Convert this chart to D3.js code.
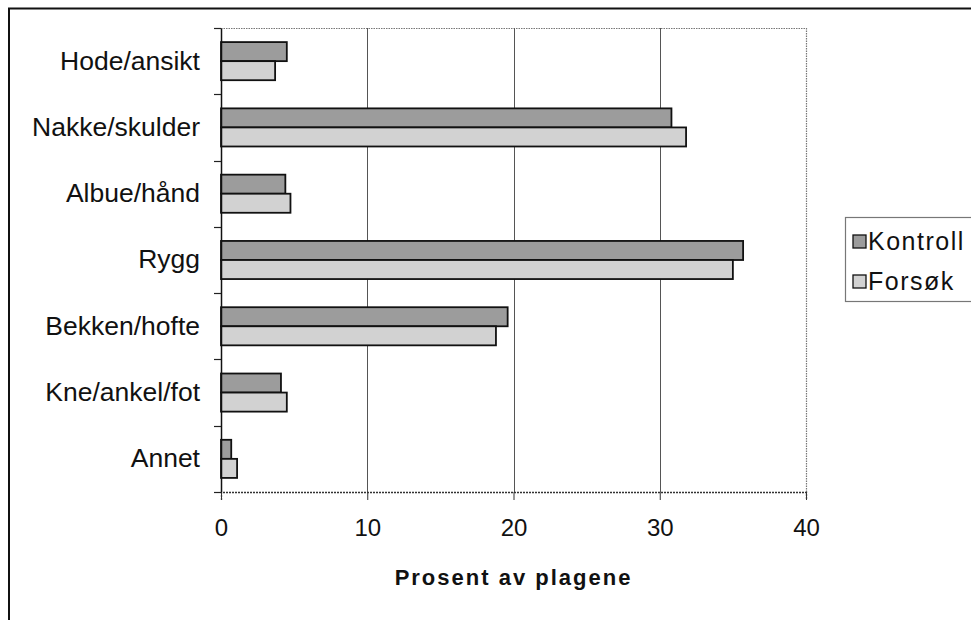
<!DOCTYPE html>
<html><head><meta charset="utf-8">
<script src="https://cdn.jsdelivr.net/npm/d3@7"></script>
<style>
body{margin:0;background:#fff;}
svg{display:block;font-family:"Liberation Sans",Arial,Helvetica,sans-serif;}
</style></head>
<body><svg id="chart" width="971" height="620"></svg>
<script>
const categories = ["Hode/ansikt","Nakke/skulder","Albue/hånd","Rygg","Bekken/hofte","Kne/ankel/fot","Annet"];
const seriesNames = ["Kontroll","Forsøk"];
const kontroll = [4.5, 30.8, 4.4, 35.7, 19.6, 4.1, 0.7];
const forsok   = [3.7, 31.8, 4.75, 35.0, 18.8, 4.5, 1.1];
const xTicks = [0,10,20,30,40];
const xTitle = "Prosent av plagene";

const colors = {"Kontroll":"#9c9c9c","Forsøk":"#d2d2d2"};
const values = {"Kontroll":kontroll,"Forsøk":forsok};

const svg = d3.select("#chart");
const plot = {left:221, right:806, top:28, bottom:492};

// outer frame
svg.append("line").attr("x1",8).attr("x2",971).attr("y1",8.5).attr("y2",8.5).attr("stroke","#111").attr("stroke-width",2);
svg.append("line").attr("x1",9).attr("x2",9).attr("y1",8).attr("y2",620).attr("stroke","#111").attr("stroke-width",2);

const x = d3.scaleLinear().domain([0,40]).range([plot.left,plot.right]);
const y = d3.scaleBand().domain(categories).range([plot.top,plot.bottom]).padding(0);
const groupFrac = 0.575;
const ySub = d3.scaleBand().domain(seriesNames).range([0,y.bandwidth()*groupFrac]);
const groupOffset = y.bandwidth()*(1-groupFrac)/2;

// plot border (dotted top/right)
svg.append("line").attr("x1",plot.left).attr("x2",plot.right).attr("y1",plot.top+0.5).attr("y2",plot.top+0.5)
  .attr("stroke","#777").attr("stroke-width",1.2).attr("stroke-dasharray","1.5,1");
svg.append("line").attr("x1",plot.right+0.5).attr("x2",plot.right+0.5).attr("y1",plot.top).attr("y2",plot.bottom)
  .attr("stroke","#777").attr("stroke-width",1.2).attr("stroke-dasharray","1.5,1");

// gridlines
svg.append("g").selectAll("line").data(xTicks.filter(t=>t>0 && t<40)).join("line")
  .attr("x1",d=>Math.round(x(d))+0.5).attr("x2",d=>Math.round(x(d))+0.5)
  .attr("y1",plot.top).attr("y2",plot.bottom)
  .attr("stroke","#555").attr("stroke-width",1);

// bars
const groups = svg.append("g").selectAll("g").data(categories).join("g")
  .attr("transform",d=>`translate(0,${y(d)+groupOffset})`);
groups.selectAll("rect").data((c,i)=>seriesNames.map(s=>({s, v:values[s][i]}))).join("rect")
  .attr("x",x(0)).attr("y",d=>ySub(d.s))
  .attr("width",d=>x(d.v)-x(0)).attr("height",ySub.bandwidth())
  .attr("fill",d=>colors[d.s]).attr("stroke","#111").attr("stroke-width",1.8);

// x axis
const xAxis = d3.axisBottom(x).tickValues(xTicks).tickSize(8).tickPadding(20).tickFormat(d3.format("d"));
const gx = svg.append("g").attr("transform",`translate(0,${plot.bottom})`).call(xAxis);
gx.select(".domain").attr("stroke","#333").attr("stroke-width",1.3).attr("stroke-dasharray","2,1");
gx.selectAll(".tick line").attr("stroke","#333");
gx.selectAll(".tick text").attr("font-size",24).attr("fill","#111")
  .attr("font-family","'Liberation Sans',Arial,sans-serif").attr("dy","0.68em");

// y axis
const yAxis = d3.axisLeft(y).tickSize(0).tickPadding(21);
const gy = svg.append("g").attr("transform",`translate(${plot.left},0)`).call(yAxis);
gy.select(".domain").attr("stroke","#111").attr("stroke-width",1.5);
gy.selectAll(".tick text").attr("font-size",26.5).attr("fill","#111")
  .attr("font-family","'Liberation Sans',Arial,sans-serif");
// category boundary ticks
const bounds = categories.map(c=>y(c)).concat([plot.bottom]);
svg.append("g").selectAll("line").data(bounds).join("line")
  .attr("x1",plot.left-7).attr("x2",plot.left).attr("y1",d=>Math.round(d)+0.5).attr("y2",d=>Math.round(d)+0.5)
  .attr("stroke","#222").attr("stroke-width",1.2);

// axis title
svg.append("text").attr("x",(plot.left+plot.right)/2).attr("y",585).attr("text-anchor","middle")
  .attr("font-size",22).attr("font-weight","bold").attr("letter-spacing","2px").attr("fill","#111").text(xTitle);

// legend
const leg = svg.append("g");
leg.append("rect").attr("x",845.5).attr("y",217.5).attr("width",140).attr("height",84)
  .attr("fill","#fff").attr("stroke","#777").attr("stroke-width",1.2);
const li = leg.selectAll("g").data(seriesNames).join("g")
  .attr("transform",(d,i)=>`translate(0,${241+i*40})`);
li.append("rect").attr("x",853).attr("y",-6).attr("width",13).attr("height",13)
  .attr("fill",d=>colors[d]).attr("stroke","#111").attr("stroke-width",1.3);
li.append("text").attr("x",868).attr("y",8.5).attr("font-size",25).attr("letter-spacing","1.5px")
  .attr("fill","#111").text(d=>d);
</script></body></html>
